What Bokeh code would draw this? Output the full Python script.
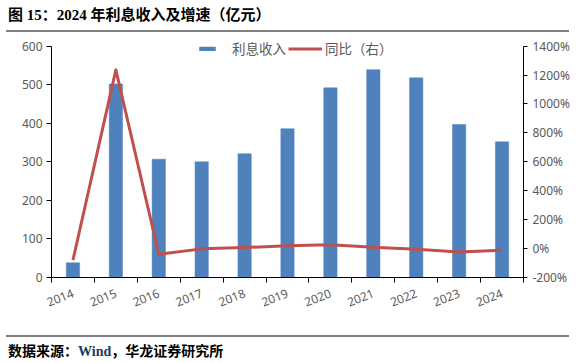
from bokeh.plotting import figure
from bokeh.models import (Range1d, LinearAxis, FixedTicker, PrintfTickFormatter,
                          Legend, LegendItem, Div)
from bokeh.layouts import column
from bokeh.embed import file_html
from bokeh.resources import INLINE

years = [2014, 2015, 2016, 2017, 2018, 2019, 2020, 2021, 2022, 2023, 2024]
income = [38, 502, 307, 300, 321, 386, 492, 539, 518, 397, 352]
yoy = [-80, 1236, -39, -2, 7, 20, 27, 10, -4, -23, -11]
left_ticks = [0, 100, 200, 300, 400, 500, 600]
right_ticks = [-200, 0, 200, 400, 600, 800, 1000, 1200, 1400]
minor_x = [y - 0.5 for y in years] + [years[-1] + 0.5]

GRAY = "#595959"
TICKFONT = "Noto Sans"
CJK = "Noto Sans CJK SC"

p = figure(width=577, height=294, output_backend="svg", toolbar_location=None,
           title=None, x_range=Range1d(2013.5, 2024.5), y_range=Range1d(0, 620),
           min_border_left=51, min_border_right=54, min_border_top=2,
           min_border_bottom=53, x_axis_type=None, y_axis_type=None)
p.outline_line_color = None
p.border_fill_color = None
p.background_fill_color = None
p.xgrid.visible = False
p.ygrid.visible = False
p.extra_y_ranges = {"pct": Range1d(-200, 1453)}

bars = p.vbar(x=years, top=income, width=0.31, fill_color="#4F81BD",
              line_color="#4F81BD", line_width=0.5)
line = p.line(x=years, y=yoy, y_range_name="pct", line_color="#C0504D",
              line_width=3, line_join="round")

def style_axis(ax):
    ax.axis_line_color = "black"
    ax.axis_line_width = 1
    ax.major_tick_line_color = "black"
    ax.major_tick_in = 0
    ax.major_tick_out = 5
    ax.minor_tick_line_color = None
    ax.major_label_text_color = GRAY
    ax.major_label_text_font = TICKFONT
    ax.major_label_text_font_size = "12px"
    ax.major_label_standoff = 4

xaxis = LinearAxis(ticker=FixedTicker(ticks=years, minor_ticks=minor_x))
style_axis(xaxis)
xaxis.major_tick_out = 0
xaxis.minor_tick_line_color = "black"
xaxis.minor_tick_in = 0
xaxis.minor_tick_out = 5
xaxis.major_label_orientation = 0.38
xaxis.major_label_standoff = 10
p.add_layout(xaxis, "below")

yleft = LinearAxis(ticker=FixedTicker(ticks=left_ticks), bounds=(0, 600))
style_axis(yleft)
p.add_layout(yleft, "left")

yright = LinearAxis(y_range_name="pct", ticker=FixedTicker(ticks=right_ticks),
                    formatter=PrintfTickFormatter(format="%d%%"), bounds=(-200, 1400))
style_axis(yright)
yright.major_tick_out = 4
yright.major_label_standoff = 5
p.add_layout(yright, "right")

leg1 = Legend(items=[LegendItem(label="利息收入", renderers=[bars])],
              location=(146, 219), glyph_width=20, glyph_height=5,
              label_standoff=15, padding=0, margin=0, spacing=0,
              border_line_color=None, background_fill_alpha=0,
              label_text_font=CJK, label_text_font_size="13.5px",
              label_text_color=GRAY, label_height=16)
leg2 = Legend(items=[LegendItem(label="同比（右）", renderers=[line])],
              location=(237, 219), glyph_width=34, glyph_height=5,
              label_standoff=3, padding=0, margin=0, spacing=0,
              border_line_color=None, background_fill_alpha=0,
              label_text_font=CJK, label_text_font_size="13.5px",
              label_text_color=GRAY, label_height=16)
p.add_layout(leg1, "center")
p.add_layout(leg2, "center")

FONT = "'Liberation Serif','Noto Sans CJK SC',serif"
title = Div(width=577, height=36, margin=0,
            text='<div style="display:block;width:563px;margin:0 0 0 6px;'
                 'padding:7px 0 7px 2px;border-bottom:2px solid #808080;'
                 'font-family:%s;font-weight:bold;font-size:15px;line-height:16px;color:#000;">'
                 '图 15：2024 年利息收入及增速（亿元）</div>' % FONT)
footer = Div(width=577, height=32, margin=0,
             text='<div style="display:block;width:563px;margin:5px 0 0 6px;'
                  'padding:7px 0 0 2px;border-top:2px solid #808080;'
                  'font-family:%s;font-weight:bold;font-size:14px;line-height:16px;color:#000;">'
                  '数据来源：<span style="color:#1F3864">Wind</span>，华龙证券研究所</div>' % FONT)

layout = column(title, p, footer, spacing=0, margin=0)
open("out.html", "w").write(file_html(layout, INLINE))
